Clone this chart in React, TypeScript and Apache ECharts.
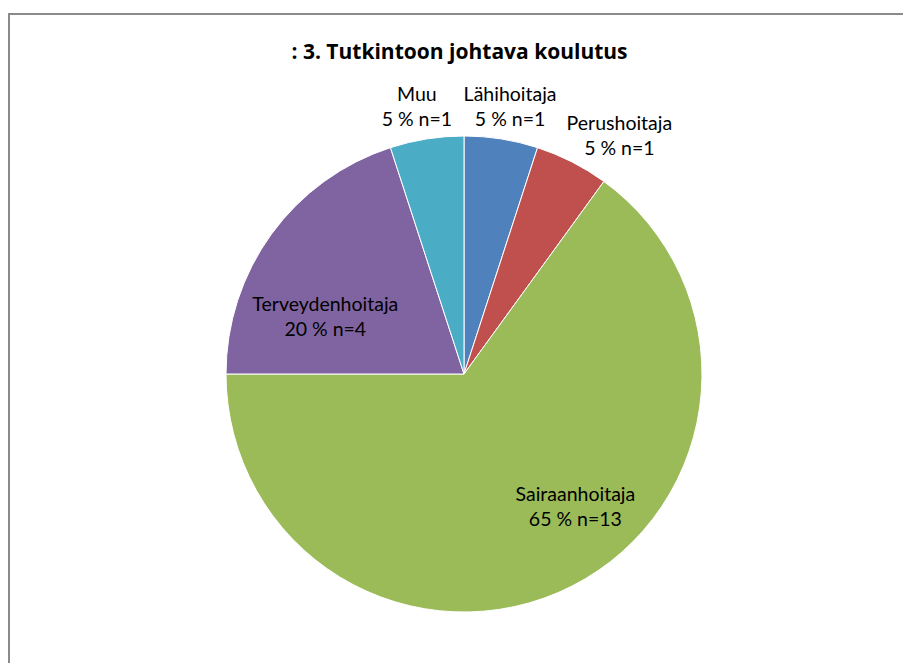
import React, { useEffect, useRef } from "react";
import * as echarts from "echarts";

const titleText = ": 3. Tutkintoon johtava koulutus";
const categories = ["Lähihoitaja", "Perushoitaja", "Sairaanhoitaja", "Terveydenhoitaja", "Muu"];
const counts = [1, 1, 13, 4, 1];
const colors = ["#4F81BD", "#C0504D", "#9BBB59", "#8064A2", "#4BACC6"];
const labelShift = [
  [27, -148],
  [100, -130],
  [56, 23],
  [-40, 14],
  [-28, -148],
];

export default function App() {
  const ref = useRef<HTMLDivElement>(null);
  useEffect(() => {
    if (!ref.current) return;
    const chart = echarts.init(ref.current, null, { renderer: "svg" });
    chart.setOption({
      animation: false,
      backgroundColor: "#ffffff",
      title: {
        text: titleText,
        left: "center",
        top: 27,
        textStyle: { fontFamily: "Open Sans", fontWeight: "bold", fontSize: 21, color: "#000" },
      },
      graphic: [
        {
          type: "line",
          shape: { x1: 1, y1: 6, x2: 1, y2: 700 },
          style: { stroke: "#8a8a8a", lineWidth: 2 },
          silent: true,
        },
        {
          type: "line",
          shape: { x1: 0, y1: 6, x2: 910, y2: 6 },
          style: { stroke: "#8a8a8a", lineWidth: 2 },
          silent: true,
        },
      ],
      series: [
        {
          type: "pie",
          center: [456, 366],
          radius: 238,
          startAngle: 90,
          clockwise: true,
          data: categories.map((name, i) => ({
            name,
            value: counts[i],
            itemStyle: { color: colors[i] },
          })),
          itemStyle: { borderColor: "#ffffff", borderWidth: 1 },
          label: {
            show: true,
            position: "inside",
            color: "#000",
            fontFamily: "Lato",
            fontSize: 19.5,
            lineHeight: 25,
            align: "center",
            formatter: (p: any) => `${p.name}\n${Math.round(p.percent)} % n=${p.value}`,
          },
          labelLine: { show: false },
          labelLayout: (p: any) => ({ dx: labelShift[p.dataIndex][0], dy: labelShift[p.dataIndex][1] }),
          emphasis: { disabled: true },
        },
      ],
    });
    return () => chart.dispose();
  }, []);
  return <div ref={ref} style={{ width: 903, height: 655 }} />;
}
